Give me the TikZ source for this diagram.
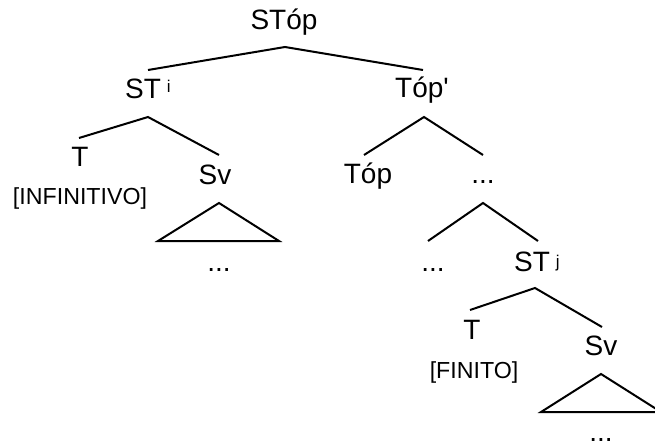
\documentclass[tikz,border=0pt]{standalone}
\usepackage{fontspec}
\setmainfont{Liberation Sans}
\begin{document}
\begin{tikzpicture}[x=1pt,y=-1pt,
  lbl/.style={inner sep=0pt,anchor=base,font=\fontsize{28}{32}\selectfont},
  lblw/.style={inner sep=0pt,anchor=base west,font=\fontsize{28}{32}\selectfont},
  feat/.style={inner sep=0pt,anchor=base,font=\fontsize{23.2}{26}\selectfont},
  branch/.style={line width=2pt},
  tri/.style={line width=2pt,line join=miter}]
\useasboundingbox (0,0) rectangle (655,446);
\newcommand{\supidx}[2]{\hspace{6pt}\raisebox{#1}{\fontsize{17}{17}\selectfont #2}}
% nodes
\node[lbl] (stop) at (284,30) {STóp};
\node[lblw] (sti) at (125,99) {ST\supidx{6pt}{i}};
\node[lbl] (topbar) at (422,98) {Tóp\textquotesingle};
\node[lbl] (t1) at (80,167) {T};
\node[feat] (inf) at (80,205) {[INFINITIVO]};
\node[lbl] (sv1) at (215,185) {Sv};
\node[lbl] (dots1) at (219,271) {...};
\node[lbl] (top) at (368,184) {Tóp};
\node[lbl] (dots2) at (483,184) {...};
\node[lbl] (dots3) at (433,271) {...};
\node[lblw] (stj) at (514,271) {ST\supidx{4pt}{j}};
\node[lbl] (t2) at (472,339) {T};
\node[feat] (fin) at (474,378) {[FINITO]};
\node[lbl] (sv2) at (601,355) {Sv};
\node[lbl] (dots4) at (601,441) {...};
% branch end points
\coordinate (stop-b) at (285,47);
\coordinate (sti-t) at (148,70);
\coordinate (topbar-t) at (423,70);
\coordinate (sti-b) at (148,117);
\coordinate (t1-t) at (79,138);
\coordinate (sv1-t) at (219,155);
\coordinate (topbar-b) at (424,117);
\coordinate (top-t) at (364,155);
\coordinate (dots2-t) at (483,155);
\coordinate (dots2-b) at (483,203);
\coordinate (dots3-t) at (428,241);
\coordinate (stj-t) at (538,241);
\coordinate (stj-b) at (535,288);
\coordinate (t2-t) at (470,310);
\coordinate (sv2-t) at (602,327);
% triangles
\coordinate (tri1a) at (219,203);
\coordinate (tri1l) at (158,241);
\coordinate (tri1r) at (279,241);
\coordinate (tri2a) at (601,374);
\coordinate (tri2l) at (541,412);
\coordinate (tri2r) at (661,412);
% connectors
\draw[branch] (sti-t) -- (stop-b) -- (topbar-t);
\draw[branch] (t1-t) -- (sti-b) -- (sv1-t);
\draw[branch] (top-t) -- (topbar-b) -- (dots2-t);
\draw[branch] (dots3-t) -- (dots2-b) -- (stj-t);
\draw[branch] (t2-t) -- (stj-b) -- (sv2-t);
\draw[tri] (tri1a) -- (tri1l) -- (tri1r) -- cycle;
\draw[tri] (tri2a) -- (tri2l) -- (tri2r) -- cycle;
\end{tikzpicture}
\end{document}
